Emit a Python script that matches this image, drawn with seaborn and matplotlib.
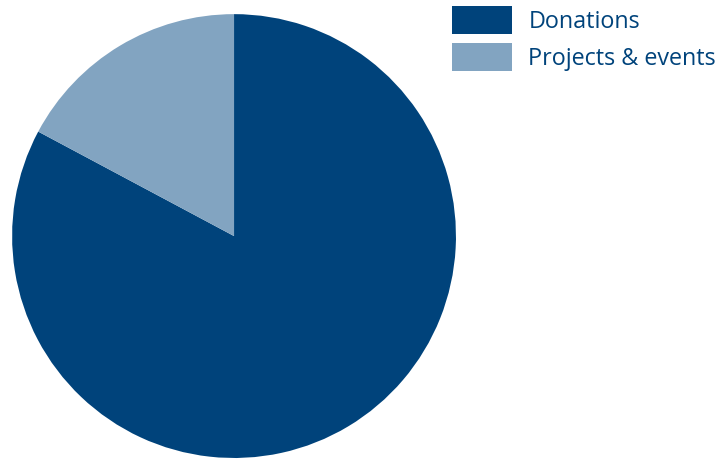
import matplotlib
matplotlib.use("Agg")
import matplotlib.pyplot as plt
from matplotlib.patches import Patch
import seaborn as sns

# Data
labels = ["Donations", "Projects & events"]
shares = [82.8, 17.2]
colors = ["#00437B", "#82A4C1"]

sns.set_theme(style="white")
plt.rcParams['font.family'] = ['Open Sans', 'DejaVu Sans']

fig = plt.figure(figsize=(7.21, 4.59), dpi=100)
ax = fig.add_axes([0.0166, 0.0022, 0.616, 0.967])

ax.pie(shares, colors=sns.color_palette(colors), startangle=90, counterclock=False,
       wedgeprops=dict(linewidth=0))
ax.set_xlim(-1, 1)
ax.set_ylim(-1, 1)
ax.set_aspect('equal')

handles = [Patch(facecolor=c, edgecolor='none') for c in colors]
fig.legend(handles, labels, loc='upper left', bbox_to_anchor=(452 / 721, 1 - 6 / 459),
           frameon=False, fontsize=16.8, handlelength=2.55, handleheight=1.45,
           handletextpad=0.72, labelspacing=0.4, borderpad=0, borderaxespad=0,
           labelcolor='#00437B')

fig.savefig("out.png", dpi=100)
